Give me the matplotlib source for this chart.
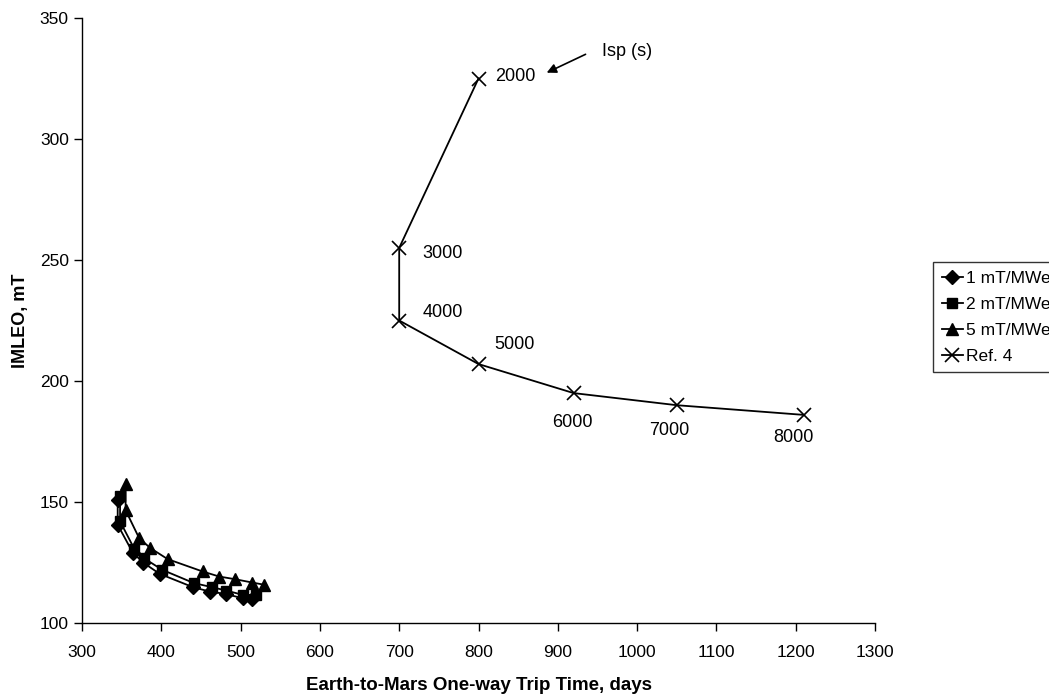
import numpy as np
import matplotlib.pyplot as plt

plt.rcParams['font.family'] = ['Liberation Sans', 'DejaVu Sans']

# 1 mT/MWe
t1 = [345, 345, 364, 377, 398, 440, 461, 481, 503, 515]
m1 = [150.7, 140.6, 129.1, 125.0, 120.3, 114.8, 113.0, 112.0, 110.2, 110.0]
# 2 mT/MWe
t2 = [348, 348, 366, 378, 401, 441, 464, 482, 503, 519]
m2 = [152.4, 142.0, 130.6, 126.8, 122.0, 116.5, 114.8, 113.4, 111.6, 111.6]
# 5 mT/MWe
t5 = [355, 355, 372, 386, 408, 452, 473, 493, 515, 530]
m5 = [157.6, 146.6, 135.1, 131.0, 126.4, 121.3, 119.2, 118.1, 116.7, 115.8]
# Ref. 4
tr = [800, 700, 700, 800, 920, 1050, 1210]
mr = [325, 255, 225, 207, 195, 190, 186]
isp = ['2000', '3000', '4000', '5000', '6000', '7000', '8000']
# label positions
isp_x = [846, 755, 755, 845, 918, 1040, 1197]
isp_y = [326, 252.6, 228.4, 215, 183, 179.6, 176.7]

fig = plt.figure(figsize=(10.49, 6.96), dpi=100)
ax = fig.add_axes([82/1049, 1 - 623/696, 793/1049, 605/696])

ax.plot(t1, m1, color='black', lw=1.3, marker='D', ms=7, label='1 mT/MWe')
ax.plot(t2, m2, color='black', lw=1.3, marker='s', ms=7.5, label='2 mT/MWe')
ax.plot(t5, m5, color='black', lw=1.3, marker='^', ms=8.5, label='5 mT/MWe')
ax.plot(tr, mr, color='black', lw=1.3, marker='x', ms=10, mew=1.2, label='Ref. 4')

for s, x, y in zip(isp, isp_x, isp_y):
    ax.text(x, y, s, fontsize=13, ha='center', va='center')

ax.annotate('', xy=(886, 327.4), xytext=(935, 335),
            arrowprops=dict(arrowstyle='-|>', color='black', lw=1.2,
                            mutation_scale=14, shrinkA=0, shrinkB=0))
ax.text(987, 336, 'Isp (s)', fontsize=13, ha='center', va='center')

ax.set_xlim(300, 1300)
ax.set_ylim(100, 350)
ax.set_xticks(np.arange(300, 1301, 100))
ax.set_yticks(np.arange(100, 351, 50))
ax.tick_params(labelsize=12.5, direction='out', length=6, width=1)
ax.tick_params(axis='x', pad=10)
ax.set_xlabel('Earth-to-Mars One-way Trip Time, days', fontsize=13.5,
              fontweight='bold', labelpad=12)
ax.set_ylabel('IMLEO, mT', fontsize=13, fontweight='bold', labelpad=8)
for sp in ax.spines.values():
    sp.set_linewidth(1)
ax.spines['top'].set_visible(False)
ax.spines['right'].set_visible(False)

leg = fig.legend(loc='upper left', bbox_to_anchor=(933/1049, 1 - 262/696),
                 fontsize=12.5, frameon=True, fancybox=False, edgecolor='black',
                 handlelength=1.2, handletextpad=0.2, borderpad=0.5,
                 labelspacing=0.62, borderaxespad=0)
leg.get_frame().set_linewidth(1)

fig.savefig('out.png', dpi=100)
